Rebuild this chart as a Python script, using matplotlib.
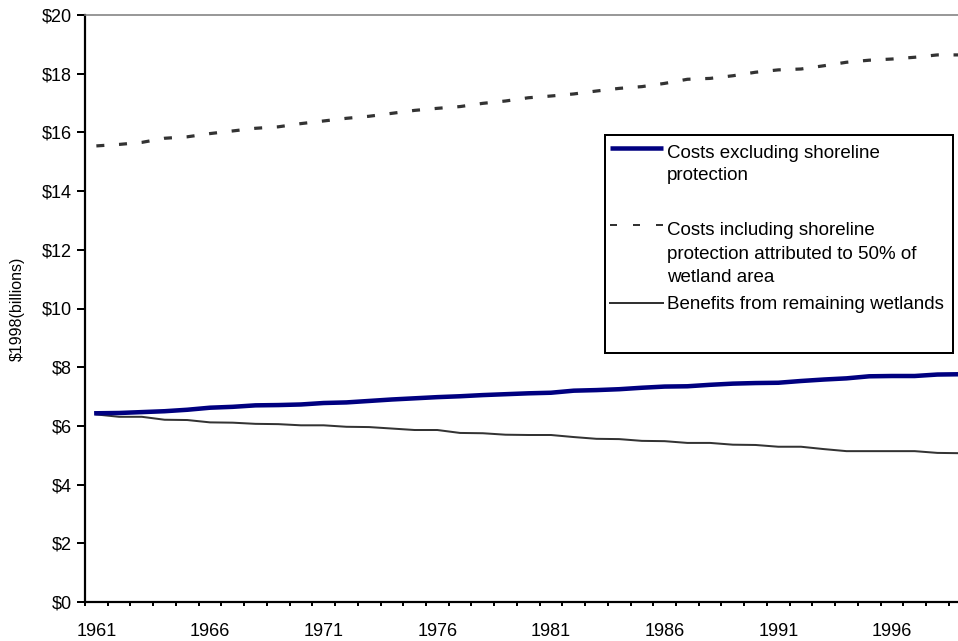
import numpy as np
import matplotlib
matplotlib.use("Agg")
import matplotlib.pyplot as plt

plt.rcParams["font.family"] = ["Liberation Sans", "DejaVu Sans"]

# annual values, $1998 billions
years = list(range(1961, 2000))
costs_excl = [6.43, 6.44, 6.47, 6.50, 6.55, 6.62, 6.65, 6.70, 6.71, 6.73,
              6.78, 6.80, 6.85, 6.90, 6.94, 6.98, 7.01, 7.05, 7.08, 7.11,
              7.13, 7.20, 7.22, 7.25, 7.30, 7.34, 7.35, 7.40, 7.44, 7.46,
              7.47, 7.53, 7.58, 7.62, 7.69, 7.70, 7.70, 7.75, 7.76]
costs_incl = [15.54, 15.59, 15.66, 15.80, 15.85, 15.96, 16.05, 16.14, 16.19, 16.30,
              16.39, 16.48, 16.55, 16.65, 16.75, 16.82, 16.88, 16.99, 17.07, 17.18,
              17.24, 17.31, 17.41, 17.50, 17.56, 17.67, 17.81, 17.84, 17.93, 18.05,
              18.13, 18.16, 18.27, 18.39, 18.46, 18.50, 18.56, 18.64, 18.64]
benefits = [6.39, 6.31, 6.31, 6.21, 6.20, 6.12, 6.11, 6.07, 6.06, 6.02,
            6.02, 5.97, 5.96, 5.91, 5.86, 5.86, 5.76, 5.75, 5.70, 5.69,
            5.69, 5.62, 5.56, 5.55, 5.49, 5.48, 5.42, 5.42, 5.36, 5.35,
            5.29, 5.29, 5.21, 5.14, 5.14, 5.14, 5.14, 5.08, 5.07]
yticks = list(range(0, 21, 2))
label_years = [y for y in years if (y - 1961) % 5 == 0]

NAVY = "#000080"
DARK = "#333333"
W, H = 958, 641


def pt(px):
    return px * 72 / 100


fig = plt.figure(figsize=(W / 100, H / 100), dpi=100)
# plot area runs a bit past the right edge of the figure
ax = fig.add_axes([85 / W, 39 / H, 886.5 / W, 587 / H])

x = np.arange(len(years))
ax.plot(x, costs_incl, color=DARK, lw=pt(3.2), linestyle=(0, (8 / 3.2, 14.7 / 3.2)),
        solid_capstyle="butt")
ax.plot(x, benefits, color=DARK, lw=pt(2.0))
ax.plot(x, costs_excl, color=NAVY, lw=pt(4.5))

ax.set_xlim(-0.5, len(years) - 0.5)
ax.set_ylim(0, 20)

ax.spines["top"].set_color("#808080")
ax.spines["top"].set_linewidth(pt(1.6))
ax.spines["right"].set_visible(False)
for s in ("left", "bottom"):
    ax.spines[s].set_color("black")
    ax.spines[s].set_linewidth(pt(2.2))

ax.set_yticks(yticks, labels=[f"${v}" for v in yticks])
ax.tick_params(axis="y", direction="out", length=pt(8), width=pt(2), pad=pt(5),
               labelsize=13)

# tick marks between categories, year labels centred on categories
ax.set_xticks(np.arange(-0.5, len(years), 1), labels=[])
ax.tick_params(axis="x", which="major", direction="out", length=pt(4), width=pt(2))
ax.set_xticks([years.index(y) for y in label_years], labels=[str(y) for y in label_years],
              minor=True)
ax.tick_params(axis="x", which="minor", length=0, pad=pt(21), labelsize=13)

ax.set_ylabel("$1998(billions)", fontsize=11.5)
ax.yaxis.set_label_coords((25 - 85) / 886.5, 0.5)

# legend box, drawn in pixel units
lax = fig.add_axes([605 / W, (H - 353) / H, 348 / W, 218 / H])
lax.set_xlim(0, 348)
lax.set_ylim(218, 0)
lax.set_xticks([])
lax.set_yticks([])
for s in lax.spines.values():
    s.set_color("black")
    s.set_linewidth(pt(2))

lax.plot([5, 58], [13, 13], color=NAVY, lw=pt(4.5), solid_capstyle="butt")
lax.plot([5, 58], [90, 90], color=DARK, lw=pt(2.0), linestyle=(0, (7 / 2.0, 16 / 2.0)))
lax.plot([5, 58], [168, 168], color=DARK, lw=pt(2.0))

legend_lines = [
    ("Costs excluding shoreline", 23),
    ("protection", 45),
    ("Costs including shoreline", 100),
    ("protection attributed to 50% of", 124),
    ("wetland area", 147),
    ("Benefits from remaining wetlands", 174),
]
for txt, yb in legend_lines:
    lax.text(62, yb, txt, fontsize=13.5, va="baseline", ha="left")

fig.savefig("out.png", dpi=100)
